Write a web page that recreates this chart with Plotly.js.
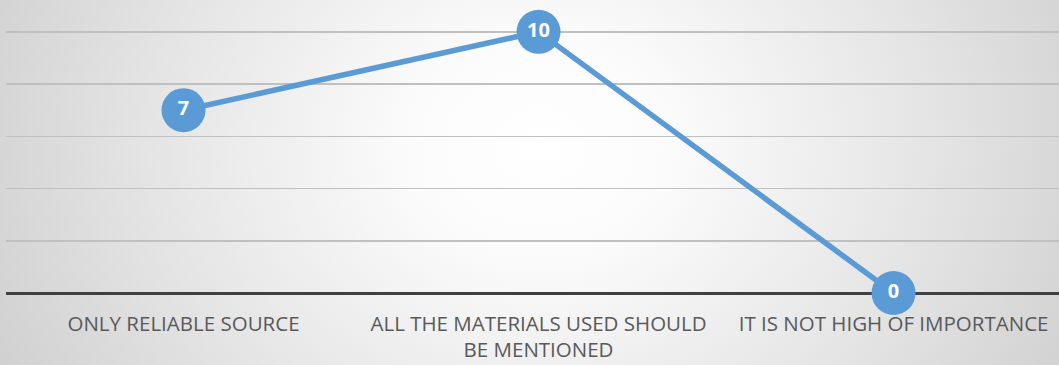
<!DOCTYPE html>
<html>
<head>
<meta charset="utf-8">
<script src="https://cdn.plot.ly/plotly-3.0.1.min.js"></script>
<style>
  html, body { margin: 0; padding: 0; }
  #chart {
    width: 1059px; height: 365px;
    background: radial-gradient(ellipse 62% 150% at 51% 40%, #ffffff 0%, #fbfbfb 20%, #e4e4e4 60%, #cbcbcb 100%);
  }
</style>
</head>
<body>
<div id="chart"></div>
<script>
// Answers to the question on citing sources
const categories = [
  "ONLY RELIABLE SOURCE",
  "ALL THE MATERIALS USED SHOULD<br>BE MENTIONED",
  "IT IS NOT HIGH OF IMPORTANCE"
];
const responses = [7, 10, 0];

const blue = "#5b9bd5";

const trace = {
  type: "scatter",
  mode: "lines+markers+text",
  x: [0, 1, 2],
  y: responses,
  text: responses.map(String),
  textposition: "middle center",
  textfont: { family: "Open Sans, sans-serif", size: 20, color: "#ffffff", weight: "bold" },
  line: { color: blue, width: 5.5 },
  marker: { color: blue, size: 44, line: { width: 0 } },
  cliponaxis: false,
  hoverinfo: "skip"
};

const layout = {
  width: 1059,
  height: 365,
  margin: { l: 6, r: 0, t: 0, b: 72, pad: 0 },
  paper_bgcolor: "rgba(0,0,0,0)",
  plot_bgcolor: "rgba(0,0,0,0)",
  showlegend: false,
  xaxis: {
    range: [-0.5, 2.466],
    tickmode: "array",
    tickvals: [0, 1, 2],
    ticktext: categories,
    showgrid: false,
    zeroline: false,
    showline: false,
    ticks: "",
    ticklabelstandoff: 16,
    tickfont: { family: "Open Sans, sans-serif", size: 20.5, color: "#595959" },
    fixedrange: true
  },
  yaxis: {
    range: [0, 11.22],
    dtick: 2,
    tick0: 0,
    showticklabels: false,
    showgrid: true,
    gridcolor: "#c0c0c0",
    gridwidth: 1.5,
    zeroline: true,
    zerolinecolor: "#404040",
    zerolinewidth: 3,
    fixedrange: true
  }
};

Plotly.newPlot("chart", [trace], layout, { displayModeBar: false, staticPlot: true });
</script>
</body>
</html>
